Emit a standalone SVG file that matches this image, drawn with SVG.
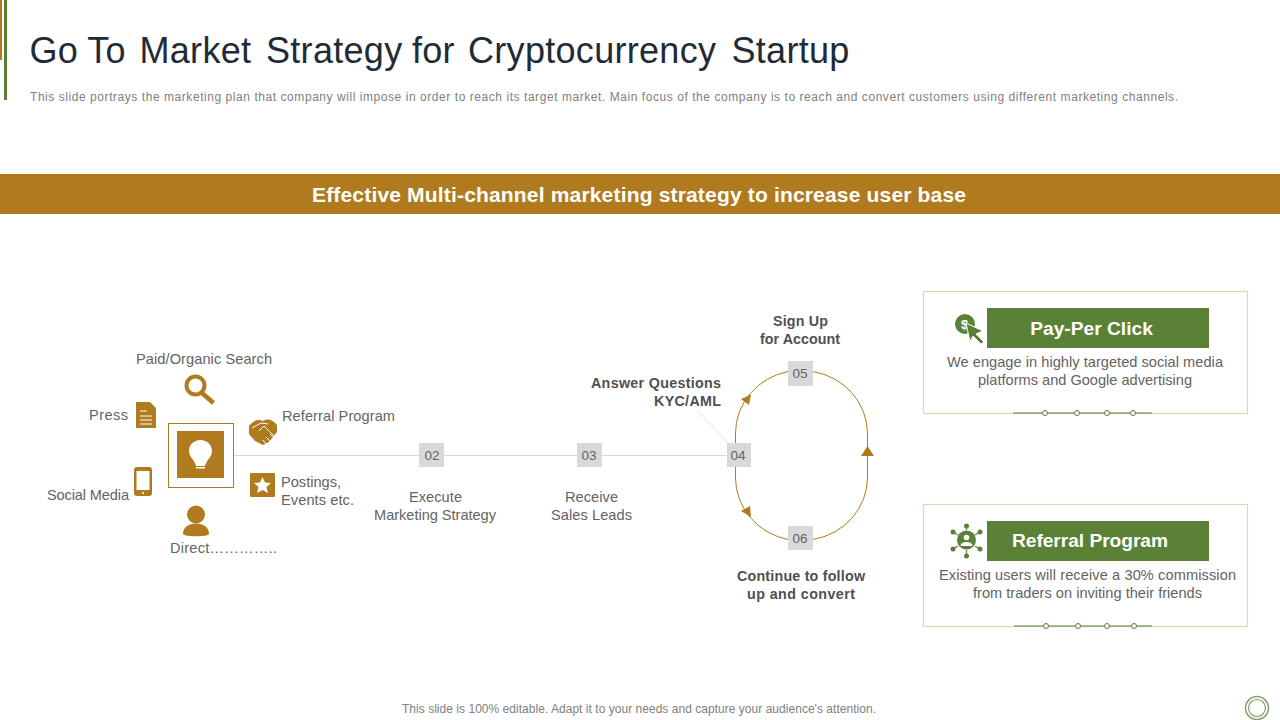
<svg xmlns="http://www.w3.org/2000/svg" width="1280" height="720" viewBox="0 0 1280 720">
<style>
text{font-family:"Liberation Sans",Arial,sans-serif}
.t{font-size:14.600px;fill:#636363}
.b{font-size:14.300px;fill:#505050;font-weight:700;text-anchor:middle}
.m{text-anchor:middle}
.n{font-size:13.500px;fill:#636363;text-anchor:middle}
.sq{fill:#d9d9d9}
.g{fill:#b07a1e}
.gs{fill:none;stroke:#b07a1e}
.v{fill:#5b8136}
.card{fill:#fff;stroke:#d6dcb8;stroke-width:1.200}
.h{font-size:19.200px;font-weight:700;fill:#fff;text-anchor:middle}
.dot{fill:#fff;stroke:#5b8136;stroke-width:1}
.rule{stroke:#5b8136;stroke-width:1.200}
.w{fill:#fff}
</style>
<rect width="1280" height="720" fill="#fff"/>
<g id="accent">
<rect x="0" y="0" width="2" height="60" fill="#b07a1e"/>
<rect x="4" y="0" width="3" height="100" fill="#5b8136"/>
</g>
<text id="title" y="63" font-size="36" fill="#222b35" letter-spacing=".3"><tspan x="29.500">Go</tspan> <tspan x="87.300">To</tspan> <tspan x="139.500">Market</tspan> <tspan x="266">Strategy</tspan> <tspan x="412">for</tspan> <tspan x="468">Cryptocurrency</tspan> <tspan x="731.500">Startup</tspan></text>
<text id="subtitle" x="30" y="101" font-size="12" fill="#808080" textLength="1148" lengthAdjust="spacing">This slide portrays the marketing plan that company will impose in order to reach its target market. Main focus of the company is to reach and convert customers using different marketing channels.</text>
<g id="banner">
<rect x="0" y="174" width="1280" height="40" fill="#b07a1e"/>
<text x="639" y="202" font-size="21" font-weight="700" fill="#fff" text-anchor="middle" textLength="654" lengthAdjust="spacing">Effective Multi-channel marketing strategy to increase user base</text>
</g>
<g id="connectors">
<path d="M234 455.500H738" stroke="#d9d9d9" stroke-width="1" fill="none"/>
<path d="M698 411L730 445" stroke="#e3e3e3" stroke-width="1" fill="none"/>
<path class="gs" d="M735.500 455V433A66 63 0 0 1 788 371.500M813 371.500A66 63 0 0 1 867.500 433V478A66 63 0 0 1 813 539.500M788 539.500A66 63 0 0 1 735.500 478V455" stroke-width="1"/>
<path class="g" d="M741 399L751 394.500L749 405Z"/>
<path class="g" d="M867.500 446L874 456H861Z"/>
<path class="g" d="M741 511L750 506L751 517Z"/>
</g>
<g id="hub">
<rect x="168.500" y="423.500" width="65" height="64" fill="#fff" stroke="#b07a1e"/>
<rect class="g" x="177" y="431" width="47" height="47"/>
<path class="w" d="M200.500 440C193.500 440 189 445 189 451C189 457 194 459 196 466H205C207 459 212 457 212 451C212 445 207.500 440 200.500 440Z"/>
<rect class="w" x="196" y="467" width="9" height="1.500"/>
</g>
<g id="search">
<circle class="gs" cx="195.500" cy="385.500" r="9" stroke-width="4"/>
<path class="gs" d="M202 393L213.500 403" stroke-width="4.500"/>
<text class="t" x="136" y="364" textLength="136">Paid/Organic Search</text>
</g>
<g id="press">
<path class="g" d="M136 402H150L156 408V428H136Z"/>
<path d="M140 411H147M140 416H152M140 420H152M140 424H152" stroke="#fff" fill="none"/>
<text class="t" x="89" y="420" textLength="39">Press</text>
</g>
<g id="referral">
<path class="g" d="M249 426C254 420 258 419 263 421C268 418 273 420 277 425V432L269 442L263 445L255 441L249 434Z"/>
<path d="M252 428L261 423L268 424M259 431L264 426L274 436M266 444L263 440M270 441L266 437M273 437L270 434" stroke="#fff" fill="none"/>
<text class="t" x="282" y="421" textLength="113">Referral Program</text>
</g>
<g id="postings">
<rect class="g" x="250" y="473" width="25" height="24" rx="1"/>
<path class="w" d="M262.500 477L265 482.500L271 483L266.500 487L268 493L262.500 490L257 493L258.500 487L254 483L260 482.500Z"/>
<text class="t" x="281" y="487" textLength="60">Postings,</text>
<text class="t" x="281" y="505" textLength="73">Events etc.</text>
</g>
<g id="social">
<rect class="g" x="134" y="467" width="18" height="29" rx="3"/>
<rect class="w" x="136.500" y="471" width="13" height="19"/>
<circle class="w" cx="143" cy="493" r="1"/>
<text class="t" x="47" y="500" textLength="82">Social Media</text>
</g>
<g id="direct">
<circle class="g" cx="196" cy="514.500" r="9"/>
<path class="g" d="M183 534C183 527 189 523.500 196 523.500C203 523.500 209 527 209 534C209 537 183 537 183 534Z"/>
<text class="t" x="170" y="553" textLength="107">Direct…………..</text>
</g>
<g id="step02">
<rect class="sq" x="419" y="443" width="25" height="24"/>
<text class="n" x="432" y="460">02</text>
<text class="t m" x="435.500" y="502" textLength="53">Execute</text>
<text class="t m" x="435" y="520" textLength="122">Marketing Strategy</text>
</g>
<g id="step03">
<rect class="sq" x="577" y="443" width="25" height="24"/>
<text class="n" x="589" y="460">03</text>
<text class="t m" x="591.500" y="502" textLength="53">Receive</text>
<text class="t m" x="591.500" y="520" textLength="81">Sales Leads</text>
</g>
<g id="step04">
<rect class="sq" x="727" y="443" width="24" height="24"/>
<text class="n" x="738" y="460">04</text>
<text class="b" x="721" y="388" style="text-anchor:end" textLength="130">Answer Questions</text>
<text class="b" x="721" y="406" style="text-anchor:end" textLength="67">KYC/AML</text>
</g>
<g id="step05">
<rect class="sq" x="788" y="361" width="25" height="25"/>
<text class="n" x="800" y="378">05</text>
<text class="b" x="800.500" y="326" textLength="55">Sign Up</text>
<text class="b" x="800" y="344" textLength="80">for Account</text>
</g>
<g id="step06">
<rect class="sq" x="788" y="526" width="25" height="24"/>
<text class="n" x="800" y="543">06</text>
<text class="b" x="801" y="581" textLength="128">Continue to follow</text>
<text class="b" x="801" y="599" textLength="108">up and convert</text>
</g>
<g id="card-ppc">
<rect class="card" x="923.500" y="291.500" width="324" height="122"/>
<rect class="v" x="987" y="308" width="222" height="40"/>
<text class="h" x="1091.500" y="335">Pay-Per Click</text>
<circle class="v" cx="965" cy="324" r="10"/>
<text x="964.500" y="329" font-size="13" font-weight="700" fill="#fff" text-anchor="middle">$</text>
<path class="v" d="M966 323L983 331L976 334L984 342L981 344L973 336L970 342Z" stroke="#fff" stroke-width="1"/>
<text class="t m" x="1085" y="367" textLength="276">We engage in highly targeted social media</text>
<text class="t m" x="1085" y="385" textLength="214">platforms and Google advertising</text>
<path class="rule" d="M1013 413H1152"/>
<circle class="dot" cx="1045" cy="413" r="2.500"/><circle class="dot" cx="1077" cy="413" r="2.500"/><circle class="dot" cx="1107" cy="413" r="2.500"/><circle class="dot" cx="1133" cy="413" r="2.500"/>
</g>
<g id="card-referral">
<rect class="card" x="923.500" y="504.500" width="324" height="122"/>
<rect class="v" x="987" y="521" width="222" height="40"/>
<text class="h" x="1090" y="547" textLength="156">Referral Program</text>
<circle class="w" cx="966.500" cy="540" r="12"/>
<g fill="none" stroke="#5b8136" stroke-width="1.200"><path d="M966.500 526V530M966.500 550V556M953 532L958 535M980 532L975 535M953 549L958 546M980 549L975 546"/></g>
<circle class="v" cx="966.500" cy="540" r="9.500"/>
<circle class="v" cx="966.500" cy="526" r="2.500"/><circle class="v" cx="966.500" cy="556" r="2.500"/><circle class="v" cx="953" cy="532" r="2.500"/><circle class="v" cx="980" cy="532" r="2.500"/><circle class="v" cx="953" cy="549" r="2.500"/><circle class="v" cx="980" cy="549" r="2.500"/>
<circle class="w" cx="966.500" cy="537.500" r="2.800"/><path class="w" d="M960.500 546C960.500 540.500 972.500 540.500 972.500 546Z"/>
<text class="t m" x="1087.500" y="580" textLength="297">Existing users will receive a 30% commission</text>
<text class="t m" x="1087.500" y="598" textLength="229">from traders on inviting their friends</text>
<path class="rule" d="M1014 626H1152"/>
<circle class="dot" cx="1046" cy="626" r="2.500"/><circle class="dot" cx="1078" cy="626" r="2.500"/><circle class="dot" cx="1107" cy="626" r="2.500"/><circle class="dot" cx="1134" cy="626" r="2.500"/>
</g>
<text id="footer" x="639" y="713" font-size="12" fill="#808080" text-anchor="middle" textLength="474">This slide is 100% editable. Adapt it to your needs and capture your audience's attention.</text>
<g id="logo" fill="none" stroke="#84a267"><circle cx="1257" cy="708" r="11.500" stroke-width="1.500"/><circle cx="1257" cy="708" r="8.500" stroke-width="1.200"/></g>
</svg>
